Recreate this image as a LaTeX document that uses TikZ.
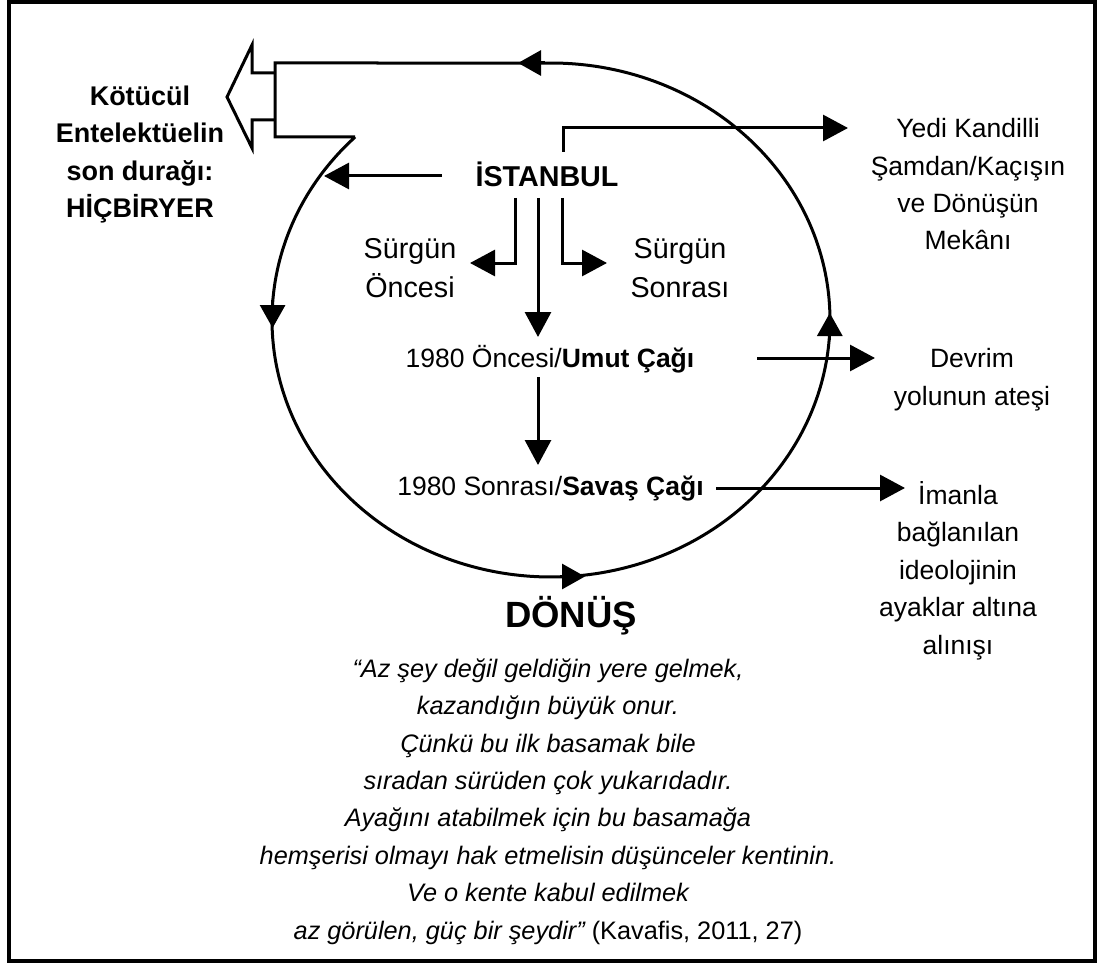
\documentclass[tikz,border=0pt]{standalone}
\usepackage{fontspec}
\setmainfont{Liberation Sans}
\usetikzlibrary{arrows.meta}

\tikzset{
  stroke/.style={line width=3pt, line join=miter},
  conn/.style={stroke, -{Triangle[length=25pt,width=26pt]}},
  rim/.style={line width=3pt, -{Triangle[length=23pt,width=25pt]}},
  % multi-line texts are placed by the baseline of their last line
  txt/.style={inner sep=0pt, anchor=base, align=center,
              font=\fontsize{26.5}{37.5}\selectfont},
  boldtxt/.style={txt, font=\fontsize{27}{37.5}\selectfont\bfseries},
  midtxt/.style={txt, font=\fontsize{28.7}{39}\selectfont},
  hubtxt/.style={txt, font=\fontsize{28.7}{39}\selectfont\bfseries},
  bigtxt/.style={txt, font=\fontsize{36.5}{44}\selectfont\bfseries},
  quotetxt/.style={txt, font=\fontsize{25.3}{37.4}\selectfont\itshape},
}

\begin{document}
\begin{tikzpicture}[x=1pt, y=-1pt]
\useasboundingbox (0,0) rectangle (1104,963);

% outer frame
\draw[line width=3.5pt] (9,2) rectangle (1095,961);

% the cycle: ellipse, opened at the upper left into the exit notch
\draw[stroke]
  plot[domain=225.4:-90, samples=160, smooth]
    ({551+279*cos(\x)}, {320+257*sin(\x)})
  -- (275,63) -- (275,137) -- (355.1,137);

% direction marks on the cycle
\draw[rim] (545,63) -- (518,63);
\draw[rim] (272.6,300) -- (272.6,328);
\draw[rim] (560,576.5) -- (585,576.5);
\draw[rim] (829.8,340) -- (829.8,313);

% hollow exit arrow
\draw[stroke] (275,73) -- (252,73) -- (252,45) -- (227,97)
  -- (252,148) -- (252,120) -- (275,120);

% texts
\node[boldtxt] (kotucul) at (140,218)
  {Kötücül\\Entelektüelin\\son durağı:\\HİÇBİRYER};
\node[hubtxt] (ist) at (547,187) {İSTANBUL};
\node[midtxt] (sonce) at (410,297) {Sürgün\\Öncesi};
\node[midtxt] (ssonra) at (680,297) {Sürgün\\Sonrası};
\node[txt] (umut) at (550,367) {1980 Öncesi/\textbf{Umut Çağı}};
\node[txt] (savas) at (550.5,495) {1980 Sonrası/\textbf{Savaş Çağı}};
\node[bigtxt] (donus) at (571,627) {DÖNÜŞ};
\node[txt] (yedi) at (968,250)
  {Yedi Kandilli\\Şamdan/Kaçışın\\ve Dönüşün\\Mekânı};
\node[txt] (devrim) at (972,405) {Devrim\\yolunun ateşi};
\node[txt] (iman) at (958,654)
  {İmanla\\bağlanılan\\ideolojinin\\ayaklar altına\\alınışı};
\node[quotetxt] (quote) at (548,939)
  {“Az şey değil geldiğin yere gelmek,\\
   kazandığın büyük onur.\\
   Çünkü bu ilk basamak bile\\
   sıradan sürüden çok yukarıdadır.\\
   Ayağını atabilmek için bu basamağa\\
   hemşerisi olmayı hak etmelisin düşünceler kentinin.\\
   Ve o kente kabul edilmek\\
   az görülen, güç bir şeydir” {\upshape(Kavafis, 2011, 27)}};

% connector end points
\coordinate (istW) at (442,176);
\coordinate (rimW) at (324,176);
\coordinate (istN) at (563,152);
\coordinate (yediW) at (848,128);
\coordinate (istS1) at (515,198);
\coordinate (sonceE) at (470,263);
\coordinate (istS2) at (538,198);
\coordinate (umutN) at (538,337);
\coordinate (istS3) at (562,198);
\coordinate (ssonraW) at (607,263);
\coordinate (umutS) at (538,377);
\coordinate (savasN) at (538,465);
\coordinate (umutE) at (757,358);
\coordinate (devrimW) at (875,358);
\coordinate (savasE) at (716,488);
\coordinate (imanW) at (905,488);

% connectors
\draw[conn] (istW) -- (rimW);
\draw[conn] (istN) |- (yediW);
\draw[conn] (istS1) |- (sonceE);
\draw[conn] (istS2) -- (umutN);
\draw[conn] (istS3) |- (ssonraW);
\draw[conn] (umutS) -- (savasN);
\draw[conn] (umutE) -- (devrimW);
\draw[conn] (savasE) -- (imanW);
\end{tikzpicture}
\end{document}
